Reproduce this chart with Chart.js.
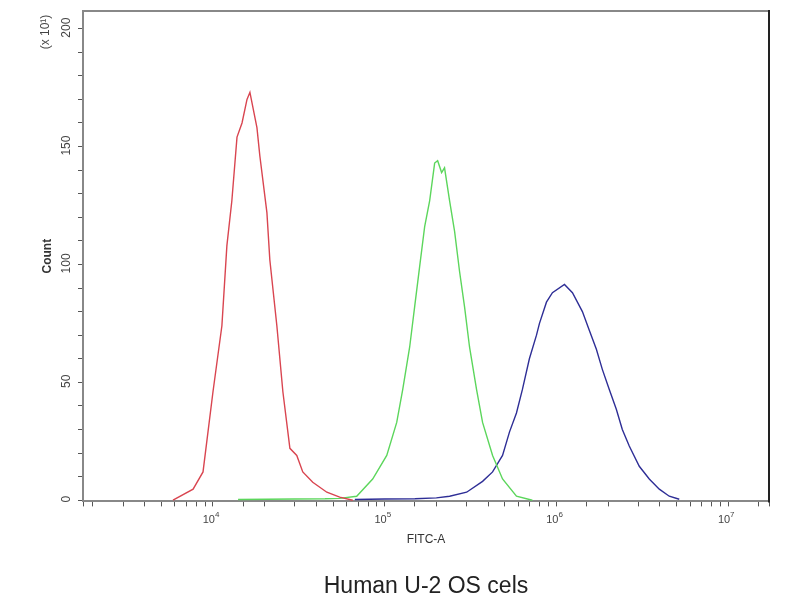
<!DOCTYPE html>
<html>
<head>
<meta charset="utf-8">
<title>Human U-2 OS cells</title>
<script src="https://cdn.jsdelivr.net/npm/chart.js@4.4.1/dist/chart.umd.min.js"></script>
<style>
	html, body { margin: 0; padding: 0; background: #fff; }
	#wrap { width: 800px; height: 600px; }
</style>
</head>
<body>
<div id="wrap"><canvas id="flow"></canvas></div>
<script>
// ----- ----- -----
// data (FITC-A intensity, count x 10)
// ----- ----- -----

const redX = [5850, 7660, 8750, 10000, 11270, 12050, 12880, 13800, 14760, 15780, 16410, 18030, 18750, 20610, 21430, 23550, 25530, 28050, 30760, 33340, 38110, 46030, 54700, 65160];
const redY = [0, 4.7, 12, 46, 74, 108, 127, 154, 160, 170, 173, 158, 146, 122, 102, 74, 46, 22, 19, 12, 7.6, 3.4, 1.3, 0];

const greenX = [14000, 30000, 45000, 54700, 68700, 85100, 102800, 117500, 127400, 139800, 149400, 159700, 170900, 182700, 195400, 203400, 214500, 223100, 238800, 255300, 272900, 291800, 311900, 342600, 371500, 424900, 485600, 585300, 724400];
const greenY = [0.3, 0.5, 0.6, 0.8, 1.7, 9, 19, 33, 47, 65, 82, 99, 116, 127, 143, 144, 139, 141, 127, 114, 97, 82, 65, 47, 33, 19, 9, 1.7, 0];

const blueX = [67000, 100000, 150000, 200000, 238800, 300000, 371500, 424900, 485600, 533300, 585300, 634000, 696000, 765500, 796800, 875000, 948000, 1114000, 1240000, 1417000, 1556000, 1709000, 1851000, 2032000, 2233000, 2420000, 2656000, 3038000, 3474000, 3973000, 4543000, 5193000];
const blueY = [0.3, 0.5, 0.6, 1.0, 1.7, 3.4, 8, 12, 19, 29, 37, 47, 60, 70, 75, 84, 88, 91.5, 88, 80, 72, 64, 55.5, 47, 38.6, 30, 23, 14.4, 9, 4.7, 1.7, 0.4];

const yLabels = [0, 50, 100, 150, 200];
const xExponents = [4, 5, 6, 7];

const fontFamily = '"Liberation Sans", Arial, sans-serif';

function toPoints(xs, ys) {
	return xs.map((x, i) => ({x: x, y: ys[i]}));
}

// ----- ----- -----
// frame + labels
// ----- ----- -----

const framePlugin = {
	id: 'frame',
	afterDraw(chart) {
		const ctx = chart.ctx;
		const area = chart.chartArea;
		const xScale = chart.scales.x;
		const yScale = chart.scales.y;

		ctx.save();
		// top and right border
		ctx.lineWidth = 2;
		ctx.strokeStyle = '#888';
		ctx.beginPath();
		ctx.moveTo(area.left, area.top);
		ctx.lineTo(area.right, area.top);
		ctx.stroke();
		ctx.strokeStyle = '#222';
		ctx.beginPath();
		ctx.moveTo(area.right, area.top - 1);
		ctx.lineTo(area.right, area.bottom + 1);
		ctx.stroke();

		// y tick labels, rotated
		ctx.fillStyle = '#444';
		ctx.font = '12px ' + fontFamily;
		ctx.textAlign = 'center';
		ctx.textBaseline = 'middle';
		yLabels.forEach((v) => {
			ctx.save();
			ctx.translate(67, yScale.getPixelForValue(v) - 1);
			ctx.rotate(-Math.PI / 2);
			ctx.fillText(String(v), 0, 0);
			ctx.restore();
		});

		// multiplier
		ctx.save();
		ctx.translate(46, 32);
		ctx.rotate(-Math.PI / 2);
		ctx.fillText('(x 10¹)', 0, 0);
		ctx.restore();

		// x tick labels 10^n
		xExponents.forEach((e) => {
			const px = xScale.getPixelForValue(Math.pow(10, e));
			ctx.font = '11px ' + fontFamily;
			ctx.textAlign = 'right';
			ctx.fillText('10', px + 2, 520);
			ctx.font = '8px ' + fontFamily;
			ctx.textAlign = 'left';
			ctx.fillText(String(e), px + 2, 515);
		});

		ctx.restore();
	}
};

// ----- ----- -----
// chart js
// ----- ----- -----

const lineStyle = {
	borderWidth: 1.4,
	pointRadius: 0,
	tension: 0,
	fill: false
};

const flowChart = new Chart('flow', {
	type: 'line',
	data: {
		datasets: [{
			label: 'red',
			data: toPoints(redX, redY),
			borderColor: '#d94550',
			...lineStyle
		}, {
			label: 'green',
			data: toPoints(greenX, greenY),
			borderColor: '#5cd65c',
			...lineStyle
		}, {
			label: 'blue',
			data: toPoints(blueX, blueY),
			borderColor: '#2e2e96',
			...lineStyle
		}]
	},
	options: {
		responsive: true,
		maintainAspectRatio: false,
		animation: false,
		devicePixelRatio: 1,
		layout: {
			padding: {top: 11, right: 31, left: 0, bottom: 0}
		},
		plugins: {
			legend: {display: false},
			tooltip: {enabled: false},
			title: {
				display: true,
				position: 'bottom',
				fullSize: false,
				text: 'Human U-2 OS cels',
				color: '#222',
				font: {family: fontFamily, size: 23, weight: 'normal'},
				padding: {top: 0, bottom: 0}
			}
		},
		scales: {
			x: {
				type: 'logarithmic',
				min: 1750,
				max: 17300000,
				afterFit(scale) { scale.height = 71; },
				border: {display: true, color: '#888', width: 2},
				grid: {drawOnChartArea: false, color: '#555', tickLength: 5},
				ticks: {
					autoSkip: false,
					maxRotation: 0,
					padding: 6,
					color: '#444',
					font: {family: fontFamily, size: 11},
					callback() { return ''; }
				},
				title: {
					display: true,
					text: 'FITC-A',
					color: '#333',
					font: {family: fontFamily, size: 12},
					padding: {top: 0, bottom: 26}
				}
			},
			y: {
				min: -0.5,
				max: 207.5,
				afterFit(scale) { scale.width = 83; },
				border: {display: true, color: '#888', width: 2},
				grid: {drawOnChartArea: false, color: '#555', tickLength: 5},
				ticks: {
					stepSize: 10,
					includeBounds: false,
					display: false
				},
				title: {
					display: true,
					text: 'Count',
					color: '#333',
					font: {family: fontFamily, size: 12, weight: 'bold'},
					padding: {top: 40, bottom: 0}
				}
			}
		}
	},
	plugins: [framePlugin]
});
</script>
</body>
</html>
